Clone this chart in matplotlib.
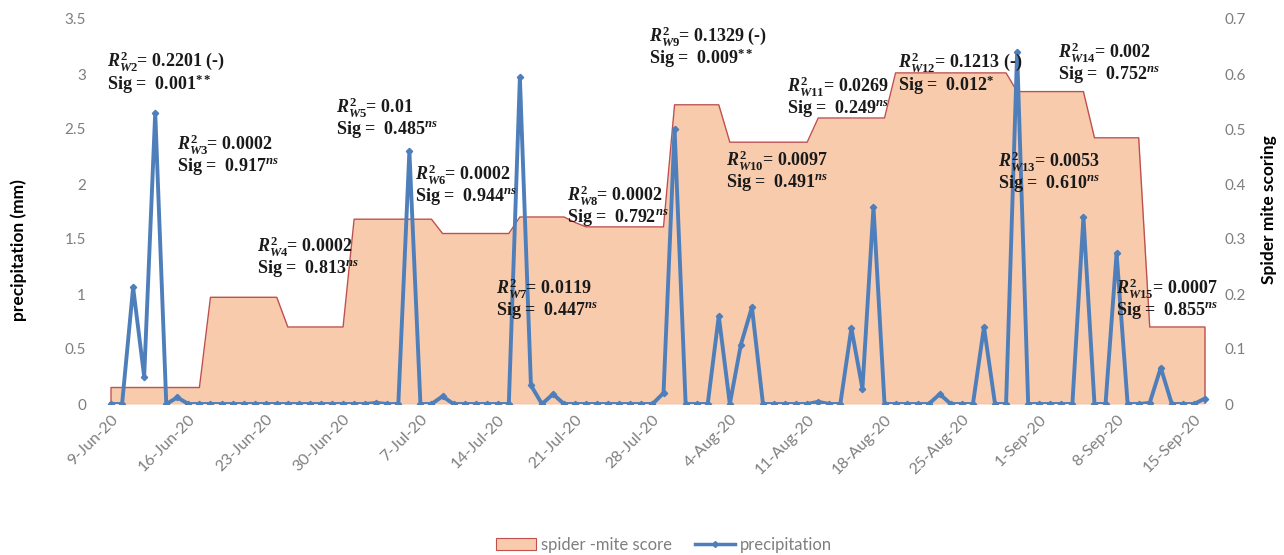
import matplotlib
matplotlib.use("Agg")
import matplotlib.pyplot as plt
import numpy as np
import pandas as pd
from matplotlib.lines import Line2D
from matplotlib.patches import Patch

# daily series, 9-Jun-20 .. 16-Sep-20
start_date = "2020-06-09"
precipitation = [
    0, 0, 1.06, 0.25, 2.65, 0, 0.06, 0, 0, 0,
    0, 0, 0, 0, 0, 0, 0, 0, 0, 0,
    0, 0, 0, 0, 0.01, 0, 0, 2.3, 0, 0,
    0.07, 0, 0, 0, 0, 0, 0, 2.97, 0.17, 0,
    0.09, 0, 0, 0, 0, 0, 0, 0, 0, 0,
    0.1, 2.5, 0, 0, 0, 0.8, 0, 0.54, 0.88, 0,
    0, 0, 0, 0, 0.02, 0, 0, 0.69, 0.14, 1.79,
    0, 0, 0, 0, 0, 0.09, 0, 0, 0, 0.7,
    0, 0, 3.2, 0, 0, 0, 0, 0, 1.7, 0,
    0, 1.37, 0, 0, 0.01, 0.33, 0, 0, 0, 0.05,
]
mite_score = (
    [0.03] * 9 + [0.194] * 7 + [0.14] * 6 + [0.336] * 8 + [0.31] * 7
    + [0.34] * 5 + [0.33] + [0.322] * 8 + [0.544] * 5 + [0.476] * 8
    + [0.52] * 7 + [0.602] * 11 + [0.568] * 7 + [0.484] * 5 + [0.14] * 6
)

r2_labels = ["2", "3", "4", "5", "6", "7", "8", "9", "10", "11", "12", "13", "14", "15"]
r2_values = ["0.2201 (-)", "0.0002", "0.0002", "0.01", "0.0002", "0.0119", "0.0002",
             "0.1329 (-)", "0.0097", "0.0269", "0.1213 (-)", "0.0053", "0.002", "0.0007"]
sig_values = ["0.001", "0.917", "0.813", "0.485", "0.944", "0.447", "0.792",
              "0.009", "0.491", "0.249", "0.012", "0.610", "0.752", "0.855"]
sig_marks = ["**", "ns", "ns", "ns", "ns", "ns", "ns", "**", "ns", "ns", "*", "ns", "ns", "ns"]

# annotation anchor (pixel x, line1 y, line2 y)
ann_pos = [(107, 62, 83), (177, 146, 164), (257, 248, 266), (336, 108, 127),
           (415, 175, 195), (496, 290, 308), (567, 196, 216), (649, 37, 57),
           (726, 161, 180), (787, 87, 107), (898, 63, 84), (998, 163, 180),
           (1058, 53, 72), (1116, 290, 308)]

W, H = 1284, 555
plt.rcParams["font.family"] = ["Lato", "DejaVu Sans"]
plt.rcParams["mathtext.fontset"] = "custom"
plt.rcParams["mathtext.rm"] = "Liberation Serif:bold"
plt.rcParams["mathtext.bf"] = "Liberation Serif:bold"
plt.rcParams["mathtext.it"] = "Liberation Serif:italic:bold"
plt.rcParams["mathtext.bfit"] = "Liberation Serif:italic:bold"

gray = "#7f7f7f"
fill_c = "#f8cbad"
edge_c = "#c0504d"
line_c = "#4f7fbb"

dates = pd.date_range(start_date, periods=len(precipitation))
x = np.arange(len(dates))

fig = plt.figure(figsize=(W / 100, H / 100), dpi=100)
ax = fig.add_axes([105.5 / W, 1 - 404 / H, 1105 / W, 385 / H])
ax2 = ax.twinx()
ax.set_zorder(ax2.get_zorder() + 1)
ax.patch.set_visible(False)

score = np.array(mite_score)
ax2.fill_between(x, 0, score, color=fill_c, lw=0)
ax2.plot(np.r_[x[0], x, x[-1]], np.r_[0, score, 0], color=edge_c, lw=1)
ax2.set_ylim(0, 0.7)
ax2.set_yticks(np.arange(0, 0.71, 0.1))
ax2.set_yticklabels(["0"] + [f"{v:.1f}" for v in np.arange(0.1, 0.71, 0.1)])

ax.plot(x, precipitation, color=line_c, lw=2.8, marker="D", ms=3.2, zorder=3)
ax.set_ylim(0, 3.5)
ax.set_yticks(np.arange(0, 3.51, 0.5))
ax.set_yticklabels(["0", "0.5", "1", "1.5", "2", "2.5", "3", "3.5"])
ax.set_xlim(-0.5, len(x) - 0.5)
tick_idx = x[::7]
ax.set_xticks(tick_idx)
ax.set_xticklabels([f"{d.day}-{d.strftime('%b-%y')}" for d in dates[::7]],
                   rotation=45, ha="right", rotation_mode="anchor")

for a in (ax, ax2):
    for s in a.spines.values():
        s.set_visible(False)
    a.tick_params(colors=gray, labelsize=11, length=0)
ax.tick_params(axis="x", labelsize=11.5, pad=6)
ax.tick_params(axis="y", pad=14)
ax2.tick_params(axis="y", pad=10)
ax.axhline(0, color="#bfbfbf", lw=1, zorder=2)

ax.set_ylabel("precipitation (mm)", fontsize=12.5, fontweight="bold")
ax.yaxis.set_label_coords(-0.071, 0.4)
ax2.set_ylabel("Spider mite scoring", fontsize=12.5, fontweight="bold")
ax2.yaxis.set_label_coords(1.046, 0.504)

for i, (px, y1, y2) in enumerate(ann_pos):
    t1 = rf"$R^2_{{W{r2_labels[i]}}}$= {r2_values[i]}"
    t2 = rf"Sig =  {sig_values[i]}$^{{{sig_marks[i]}}}$"
    fig.text(px / W, 1 - (y1 + y2) / 2 / H, t1 + "\n" + t2,
             family="Liberation Serif", fontweight="bold", fontsize=13, color="#1a1a1a",
             va="center", ha="left", multialignment="left", linespacing=0.95)

handles = [Patch(facecolor=fill_c, edgecolor=edge_c, lw=0.8),
           Line2D([], [], color=line_c, lw=2.5, marker="D", ms=3)]
leg = fig.legend(handles, ["spider -mite score", "precipitation"], loc="center",
                 bbox_to_anchor=(0.517, 1 - 545 / H), ncol=2, frameon=False,
                 fontsize=12, handlelength=2.4, columnspacing=1.4, handletextpad=0.3)
for t in leg.get_texts():
    t.set_color(gray)

fig.savefig("out.png", dpi=100)
